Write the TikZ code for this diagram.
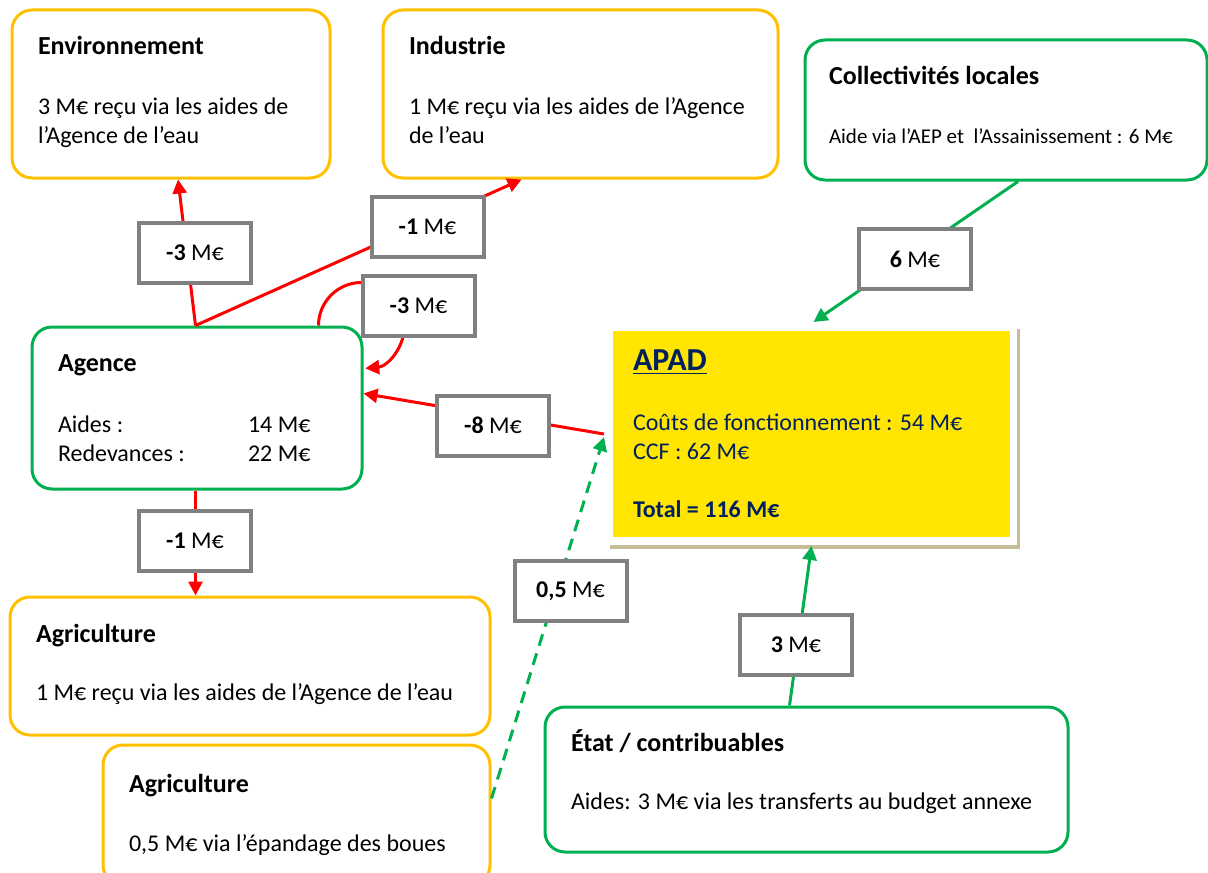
\documentclass[tikz,border=0pt]{standalone}
\usepackage{fontspec}
\setmainfont{Carlito}
\usetikzlibrary{arrows.meta,calc,backgrounds}
\definecolor{orangebord}{RGB}{255,192,0}
\definecolor{vertbord}{RGB}{0,176,80}
\definecolor{rougeflux}{RGB}{255,0,0}
\definecolor{grisbord}{RGB}{128,128,128}
\definecolor{jauneapad}{RGB}{255,229,0}
\definecolor{bleunuit}{RGB}{0,32,96}
\definecolor{ombre}{RGB}{196,189,151}
\newcommand{\titre}[1]{{\fontsize{13}{16}\selectfont\bfseries #1}}
\newcommand{\cale}[1]{\rule[-#1]{0pt}{#1}}

\begin{document}
\begin{tikzpicture}[x=0.5pt,y=-0.5pt,
  every node/.style={font=\fontsize{12}{14.6}\selectfont},
  acteur/.style={draw=orangebord,line width=1.5pt,rounded corners=10pt,fill=white,
                 inner xsep=13pt,inner ysep=0pt,align=flush left},
  financeur/.style={acteur,draw=vertbord},
  caisse/.style={fill=jauneapad,text=bleunuit,inner xsep=10pt,inner ysep=0pt,
                 outer sep=4.5pt,align=flush left,text width=178.5pt,minimum height=103pt},
  montant/.style={draw=grisbord,line width=2pt,fill=white,minimum width=56pt,
                  minimum height=30pt,inner sep=0pt},
  flux/.style={rougeflux,line width=1.5pt,-{Triangle[length=7pt,width=7pt]}},
  apport/.style={flux,vertbord}]
\useasboundingbox (0,0) rectangle (1208,872);
\clip (0,0) rectangle (1208,872);

\node[acteur,text width=133pt,minimum height=84pt] (env) at (171,94)
  {\titre{Environnement}\\[15pt]3 M€ reçu via les aides de\\l’Agence de l’eau\cale{4pt}};
\node[acteur,text width=171.5pt,minimum height=84pt] (ind) at (580.5,94)
  {\titre{Industrie}\\[15pt]1 M€ reçu via les aides de l’Agence\\de l’eau\cale{4pt}};
\node[financeur,text width=177pt,inner xsep=12pt,minimum height=70pt,
      font=\fontsize{10.5}{12.8}\selectfont] (coll) at (1006,110)
  {\titre{Collectivités locales}\\[17pt]Aide via l’AEP et\ \ l’Assainissement : 6 M€\cale{5pt}};
\node[financeur,text width=139pt,minimum height=81pt] (agence) at (197,408)
  {\titre{Agence}\\[16pt]
   \makebox[95pt][l]{Aides :}14 M€\\
   \makebox[95pt][l]{Redevances :}22 M€};
\node[caisse] (apad) at (811.5,434)
  {{\fontsize{16}{19}\selectfont\bfseries\underline{APAD}}\\[15pt]
   Coûts de fonctionnement : 54 M€\\CCF : 62 M€\\[14.5pt]
   \textbf{Total = 116 M€}};
\node[acteur,text width=214pt,minimum height=69pt] (agri) at (250,666)
  {\titre{Agriculture}\\[14.5pt]1 M€ reçu via les aides de l’Agence de l’eau\cale{4pt}};
\node[acteur,text width=167.5pt,minimum height=70pt] (boues) at (296.5,815)
  {\titre{Agriculture}\\[14.5pt]0,5 M€ via l’épandage des boues};
\node[financeur,text width=235.5pt,minimum height=72.5pt] (etat) at (806.5,779.5)
  {\titre{État / contribuables}\\[14pt]Aides: 3 M€ via les transferts au budget annexe\cale{10pt}};

% cadre ombre derriere l'APAD
\begin{scope}[on background layer]
  \fill[ombre] ($(apad.north west)+(6,7)$) rectangle ($(apad.south east)+(1,3)$);
  \fill[white] ($(apad.north west)+(3,4)$) rectangle ($(apad.south east)+(-2,-1)$);
\end{scope}

\draw[flux] ($(agence.north west)+(165,0)$) -- ($(env.south)+(7,0)$);
\draw[flux] ($(agence.north west)+(165,0)$) -- ($(ind.south west)+(140,0)$);
\draw[flux] ($(agence.north east)+(-45,0)$) arc[start angle=180,end angle=445,radius=43];
\draw[flux] (apad.west) -- ($(agence.north east)+(0,68)$);
\draw[flux] ($(agence.south west)+(165,0)$) -- ($(agri.north west)+(187,0)$);
\draw[apport] ($(coll.south)+(12,0)$) -- ($(apad.north)+(2,0)$);
\draw[apport] ($(etat.north)+(-17,0)$) -- (apad.south);
\draw[apport,dash pattern=on 6pt off 4pt] ($(boues.north east)+(0,55)$) -- ($(apad.west)+(0,3)$);

\node[montant] (m_env) at (195,252.5) {\textbf{-3} M€};
\node[montant] (m_ind) at (427.5,227) {\textbf{-1} M€};
\node[montant] (m_boucle) at (418.5,306) {\textbf{-3} M€};
\node[montant] (m_coll) at (915,259) {\textbf{6} M€};
\node[montant] (m_apad) at (493,425.5) {\textbf{-8} M€};
\node[montant] (m_agri) at (195,541) {\textbf{-1} M€};
\node[montant] (m_boues) at (570.5,591) {\textbf{0,5} M€};
\node[montant] (m_etat) at (796,645) {\textbf{3} M€};
\end{tikzpicture}
\end{document}
